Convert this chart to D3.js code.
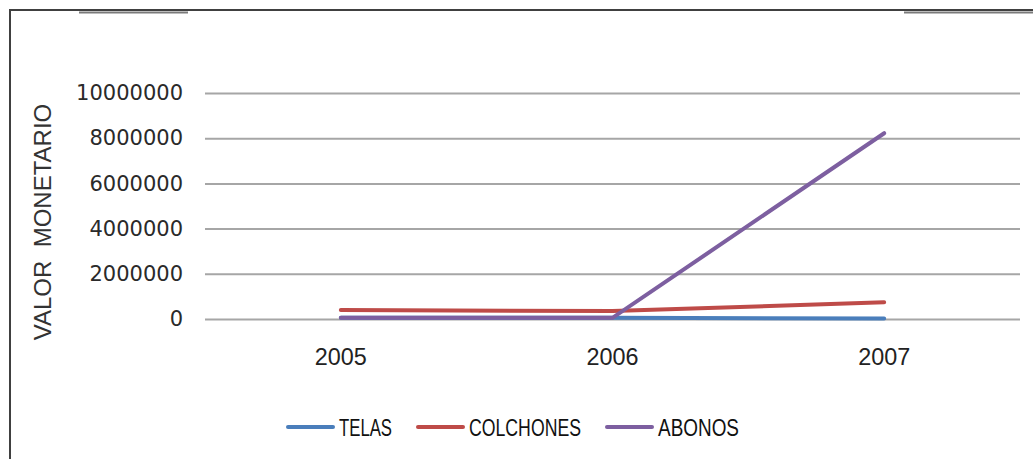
<!DOCTYPE html>
<html><head><meta charset="utf-8">
<script src="https://cdn.jsdelivr.net/npm/d3@7"></script>
<style>body{margin:0;background:#fff}svg{display:block}</style>
</head><body>
<svg id="c" width="1033" height="459"></svg>
<script>
const years = ["2005","2006","2007"];
const telas = [50000, 50000, 20000];
const colchones = [400000, 350000, 740000];
const abonos = [50000, 50000, 8220000];
const yTicks = [0, 2000000, 4000000, 6000000, 8000000, 10000000];
const seriesNames = ["TELAS","COLCHONES","ABONOS"];
const seriesColors = ["#4a7ebb","#be4b48","#7d5fa0"];
const seriesData = [telas, colchones, abonos];

const svg = d3.select("#c");
const font = "'Liberation Sans', Arial, sans-serif";
const tickFont = "'DejaVu Sans', Verdana, sans-serif";

// frame
svg.append("line").attr("x1",10).attr("x2",1033).attr("y1",10).attr("y2",10).attr("stroke","#404040").attr("stroke-width",2);
svg.append("line").attr("x1",10).attr("x2",10).attr("y1",9).attr("y2",459).attr("stroke","#404040").attr("stroke-width",2);
svg.append("line").attr("x1",79).attr("x2",188).attr("y1",12.5).attr("y2",12.5).attr("stroke","#7a7a7a").attr("stroke-width",2);
svg.append("line").attr("x1",904).attr("x2",1033).attr("y1",12.5).attr("y2",12.5).attr("stroke","#7a7a7a").attr("stroke-width",2);

const x = d3.scaleBand().domain(years).range([205,1020]);
const y = d3.scaleLinear().domain([0,10000000]).range([319,93]);

const ya = svg.append("g").attr("transform","translate(205,0)")
  .call(d3.axisLeft(y).tickValues(yTicks).tickFormat(d3.format("d")).tickSize(-815).tickPadding(22));
ya.select(".domain").remove();
ya.selectAll(".tick line").attr("stroke","#a6a6a6").attr("stroke-width",2);
ya.selectAll(".tick text").attr("font-family",tickFont).attr("font-size",21).attr("fill","#2a2a2a");

const xa = svg.append("g").attr("transform","translate(0,319)")
  .call(d3.axisBottom(x).tickSize(0).tickPadding(30));
xa.select(".domain").remove();
xa.selectAll(".tick text").attr("font-family",font).attr("font-size",23).attr("fill","#222")
  .attr("textLength",52).attr("lengthAdjust","spacingAndGlyphs");

svg.append("text").attr("transform","translate(51,222) rotate(-90)")
  .attr("text-anchor","middle").attr("font-family",font).attr("font-size",24).attr("fill","#333")
  .style("white-space","pre")
  .text("VALOR  MONETARIO");

const line = d3.line().x((d,i)=>x(years[i])+x.bandwidth()/2).y(d=>y(d));
seriesData.forEach((s,k)=>{
  svg.append("path").datum(s).attr("d",line).attr("fill","none")
    .attr("stroke",seriesColors[k]).attr("stroke-width",4).attr("stroke-linecap","round");
});

// legend
const legX = [288, 418, 607];
const legW = [53, 112, 81];
seriesNames.forEach((n,k)=>{
  svg.append("line").attr("x1",legX[k]).attr("x2",legX[k]+45).attr("y1",427).attr("y2",427)
    .attr("stroke",seriesColors[k]).attr("stroke-width",4).attr("stroke-linecap","round");
  svg.append("text").attr("x",legX[k]+51).attr("y",436).attr("font-family",font).attr("font-size",24)
    .attr("fill","#111").attr("textLength",legW[k]).attr("lengthAdjust","spacingAndGlyphs").text(n);
});
</script>
</body></html>
